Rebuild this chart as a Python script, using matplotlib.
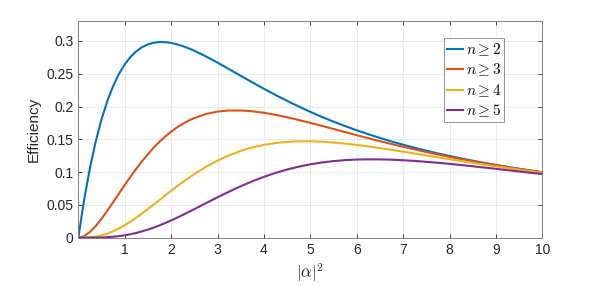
import matplotlib
matplotlib.use("Agg")
import matplotlib.pyplot as plt

plt.rcParams["font.family"] = ["Liberation Sans", "DejaVu Sans"]
plt.rcParams["mathtext.fontset"] = "cm"

# |alpha|^2 sample points
alpha2 = [0, 0.125, 0.25, 0.375, 0.5, 0.625, 0.75, 0.875, 1.0, 1.125, 1.25,
          1.375, 1.5, 1.625, 1.75, 1.875, 2.0, 2.125, 2.25, 2.375, 2.5, 2.75,
          3.0, 3.25, 3.5, 3.75, 4.0, 4.25, 4.5, 4.75, 5.0, 5.25, 5.5, 5.75,
          6.0, 6.25, 6.5, 6.75, 7.0, 7.25, 7.5, 7.75, 8.0, 8.25, 8.5, 8.75,
          9.0, 9.25, 9.5, 9.75, 10.0]

eff_n2 = [0, 0.0575, 0.1060, 0.1466, 0.1804, 0.2083, 0.2311, 0.2496, 0.2642,
          0.2757, 0.2843, 0.2906, 0.2948, 0.2973, 0.2984, 0.2982, 0.2970,
          0.2950, 0.2922, 0.2889, 0.2851, 0.2765, 0.2670, 0.2570, 0.2469,
          0.2369, 0.2271, 0.2177, 0.2086, 0.2001, 0.1919, 0.1842, 0.1770,
          0.1702, 0.1638, 0.1578, 0.1521, 0.1468, 0.1418, 0.1371, 0.1327,
          0.1285, 0.1246, 0.1209, 0.1174, 0.1141, 0.1110, 0.1080, 0.1052,
          0.1025, 0.0999]
eff_n3 = [0, 0.0024, 0.0087, 0.0177, 0.0288, 0.0411, 0.0540, 0.0672, 0.0803,
          0.0930, 0.1052, 0.1167, 0.1274, 0.1373, 0.1463, 0.1544, 0.1617,
          0.1681, 0.1736, 0.1784, 0.1825, 0.1886, 0.1923, 0.1940, 0.1940,
          0.1928, 0.1905, 0.1874, 0.1837, 0.1795, 0.1751, 0.1705, 0.1658,
          0.1610, 0.1563, 0.1517, 0.1472, 0.1429, 0.1386, 0.1346, 0.1306,
          0.1269, 0.1233, 0.1198, 0.1166, 0.1134, 0.1104, 0.1076, 0.1048,
          0.1022, 0.0997]
eff_n4 = [0, 0.0001, 0.0005, 0.0016, 0.0035, 0.0062, 0.0097, 0.0140, 0.0190,
          0.0246, 0.0306, 0.0371, 0.0438, 0.0506, 0.0576, 0.0646, 0.0714,
          0.0782, 0.0847, 0.0910, 0.0970, 0.1080, 0.1176, 0.1257, 0.1324,
          0.1377, 0.1416, 0.1444, 0.1462, 0.1470, 0.1470, 0.1464, 0.1451,
          0.1435, 0.1415, 0.1392, 0.1366, 0.1340, 0.1312, 0.1283, 0.1255,
          0.1226, 0.1197, 0.1169, 0.1141, 0.1114, 0.1088, 0.1062, 0.1037,
          0.1013, 0.0990]
eff_n5 = [0, 0.0000, 0.0000, 0.0001, 0.0003, 0.0008, 0.0014, 0.0024, 0.0037,
          0.0053, 0.0073, 0.0097, 0.0124, 0.0154, 0.0188, 0.0224, 0.0263,
          0.0304, 0.0347, 0.0391, 0.0435, 0.0526, 0.0616, 0.0703, 0.0785,
          0.0860, 0.0928, 0.0988, 0.1040, 0.1083, 0.1119, 0.1147, 0.1168,
          0.1183, 0.1192, 0.1195, 0.1194, 0.1190, 0.1181, 0.1171, 0.1157,
          0.1142, 0.1126, 0.1108, 0.1089, 0.1070, 0.1050, 0.1030, 0.1010,
          0.0990, 0.0971]

series = [
    (eff_n2, r"$n \geq 2$", "#0072BD"),
    (eff_n3, r"$n \geq 3$", "#D95319"),
    (eff_n4, r"$n \geq 4$", "#EDB120"),
    (eff_n5, r"$n \geq 5$", "#7E2F8E"),
]

fig = plt.figure(figsize=(5.99, 2.86), dpi=100)
ax = fig.add_axes([78.3 / 599, 1 - 237.7 / 286, (542.3 - 78.3) / 599, (237.7 - 21.3) / 286])

for vals, label, color in series:
    ax.plot(alpha2, vals, color=color, lw=1.5, label=label)

ax.set_xlim(0, 10)
ax.set_ylim(0, 0.33)
ax.set_xticks(range(1, 11))
ax.set_yticks([0, 0.05, 0.1, 0.15, 0.2, 0.25, 0.3])
ax.set_yticklabels(["0", "0.05", "0.1", "0.15", "0.2", "0.25", "0.3"])
ax.grid(True, color="#e6e6e6", lw=0.6)
ax.set_axisbelow(True)
ax.tick_params(direction="in", length=3, width=0.6, color="#262626",
               labelsize=10, labelcolor="#262626", top=True, right=True)
for sp in ax.spines.values():
    sp.set_color("#808080")
    sp.set_linewidth(0.7)

ax.set_xlabel(r"$|\alpha|^2$", fontsize=12, color="#262626", labelpad=3.5)
ax.set_ylabel("Efficiency", fontsize=11, color="#262626", labelpad=4)

leg = ax.legend(loc="upper left", bbox_to_anchor=((444.3 - 78.3) / 464, 1 - (38.3 - 21.3) / 216.4),
                fontsize=11, handlelength=1.0, handletextpad=0.2, borderpad=0.2,
                labelspacing=0.25, borderaxespad=0, fancybox=False, framealpha=1)
leg.get_frame().set_edgecolor("#808080")
leg.get_frame().set_linewidth(0.6)

fig.savefig("out.png", dpi=100)
